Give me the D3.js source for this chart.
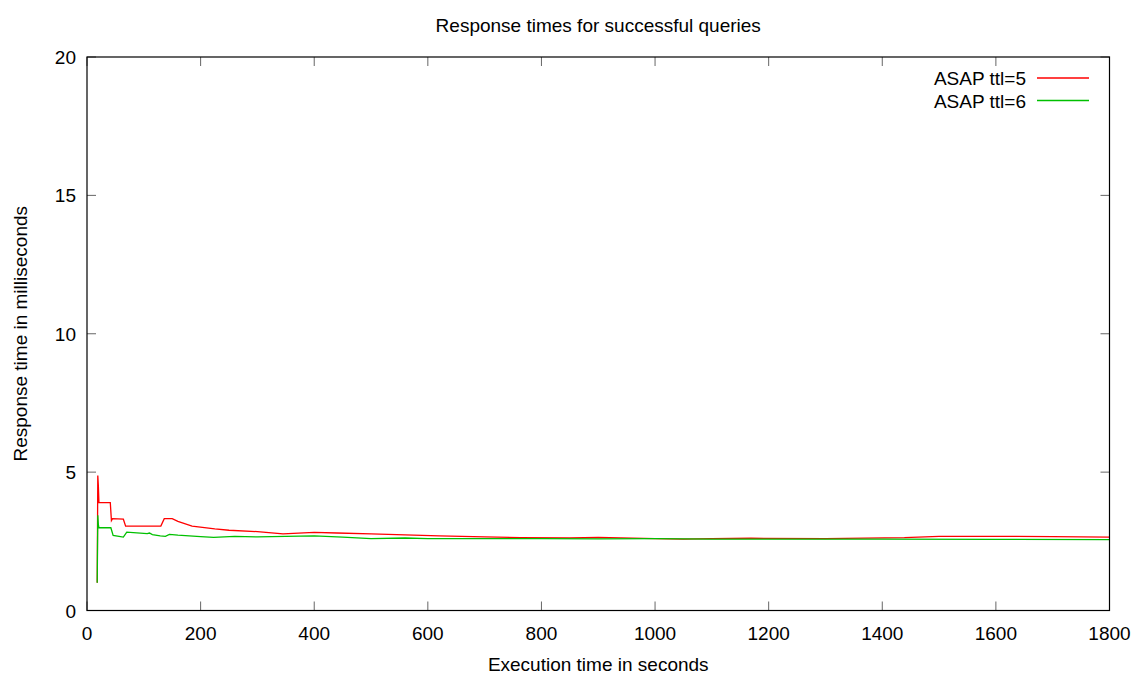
<!DOCTYPE html>
<html>
<head>
<meta charset="utf-8">
<script src="https://cdn.jsdelivr.net/npm/d3@7"></script>
<style>
  body { margin: 0; background: #fff; }
  svg text { font-family: "Liberation Sans", Arial, sans-serif; fill: #000; }
</style>
</head>
<body>
<div class="chart"></div>
<script>
// data
const title = "Response times for successful queries";
const x_label = "Execution time in seconds";
const y_label = "Response time in milliseconds";
const series_names = ["ASAP ttl=5", "ASAP ttl=6"];
const series_colors = ["#ff0000", "#00c000"];

const x_ticks = [0, 200, 400, 600, 800, 1000, 1200, 1400, 1600, 1800];
const y_ticks = [0, 5, 10, 15, 20];

const ttl5_x = [18, 19, 20, 21, 41, 43, 45, 64, 68, 130, 136, 150, 160, 185, 225, 250, 300, 345, 400, 440, 500, 560, 620, 700, 763, 850, 900, 1000, 1050, 1100, 1169, 1300, 1439, 1500, 1600, 1700, 1800];
const ttl5_y = [1.0, 4.88, 4.5, 3.9, 3.9, 3.25, 3.32, 3.3, 3.05, 3.05, 3.32, 3.32, 3.22, 3.05, 2.95, 2.9, 2.85, 2.77, 2.82, 2.8, 2.77, 2.73, 2.7, 2.66, 2.63, 2.62, 2.64, 2.6, 2.58, 2.6, 2.61, 2.6, 2.63, 2.68, 2.68, 2.67, 2.65];

const ttl6_x = [18, 19, 20, 21, 42, 46, 64, 70, 106, 110, 115, 129, 138, 145, 160, 200, 223, 260, 300, 350, 400, 450, 500, 560, 600, 700, 800, 900, 1000, 1100, 1200, 1400, 1600, 1800];
const ttl6_y = [1.0, 3.44, 3.1, 2.99, 2.99, 2.71, 2.65, 2.83, 2.78, 2.8, 2.74, 2.7, 2.68, 2.75, 2.72, 2.67, 2.64, 2.68, 2.66, 2.68, 2.7, 2.65, 2.6, 2.62, 2.6, 2.6, 2.6, 2.59, 2.6, 2.58, 2.58, 2.58, 2.57, 2.56];

function renderChart() {

    // constants
    const width = 1143;
    const height = 674;
    const left = 87;
    const right = 1109.5;
    const top = 57;
    const bottom = 610.5;
    const tick_len = 9;
    const font_size = 19;

    const svg = d3.select(".chart").append("svg")
        .attr("width", width)
        .attr("height", height);

    // scales
    const x_scale = d3.scaleLinear().domain([0, 1800]).range([left, right]);
    const y_scale = d3.scaleLinear().domain([0, 20]).range([bottom, top]);

    // ticks, mirrored on all four sides, pointing inward
    const tick_color = "#666";
    x_ticks.forEach(function(t) {
        const x = x_scale(t);
        svg.append("line").attr("x1", x).attr("x2", x)
            .attr("y1", bottom).attr("y2", bottom - tick_len)
            .attr("stroke", tick_color);
        svg.append("line").attr("x1", x).attr("x2", x)
            .attr("y1", top).attr("y2", top + tick_len)
            .attr("stroke", tick_color);
        svg.append("text")
            .attr("x", x)
            .attr("y", bottom + 29)
            .attr("text-anchor", "middle")
            .style("font-size", font_size + "px")
            .text(t);
    });
    y_ticks.forEach(function(t) {
        const y = y_scale(t);
        svg.append("line").attr("x1", left).attr("x2", left + tick_len)
            .attr("y1", y).attr("y2", y)
            .attr("stroke", tick_color);
        svg.append("line").attr("x1", right).attr("x2", right - tick_len)
            .attr("y1", y).attr("y2", y)
            .attr("stroke", tick_color);
        svg.append("text")
            .attr("x", left - 11)
            .attr("y", y + 7)
            .attr("text-anchor", "end")
            .style("font-size", font_size + "px")
            .text(t);
    });

    // lines
    const line = d3.line()
        .x(function(d) { return x_scale(d[0]); })
        .y(function(d) { return y_scale(d[1]); });

    const all_x = [ttl5_x, ttl6_x];
    const all_y = [ttl5_y, ttl6_y];
    all_x.forEach(function(xs, i) {
        const pts = xs.map(function(x, j) { return [x, all_y[i][j]]; });
        svg.append("path")
            .datum(pts)
            .attr("fill", "none")
            .attr("stroke", series_colors[i])
            .attr("stroke-width", 1.3)
            .attr("d", line);
    });

    // frame
    svg.append("rect")
        .attr("x", left).attr("y", top)
        .attr("width", right - left).attr("height", bottom - top)
        .attr("fill", "none")
        .attr("stroke", "#000")
        .attr("stroke-width", 1.2);

    // legend
    series_names.forEach(function(name, i) {
        const y = 78 + i * 22.5;
        svg.append("text")
            .attr("x", 1026)
            .attr("y", y + 7)
            .attr("text-anchor", "end")
            .style("font-size", font_size + "px")
            .text(name);
        svg.append("line")
            .attr("x1", 1037).attr("x2", 1089)
            .attr("y1", y).attr("y2", y)
            .attr("stroke", series_colors[i])
            .attr("stroke-width", 1.3);
    });

    // titles
    svg.append("text")
        .attr("x", (left + right) / 2)
        .attr("y", 32)
        .attr("text-anchor", "middle")
        .style("font-size", font_size + "px")
        .text(title);

    svg.append("text")
        .attr("x", (left + right) / 2)
        .attr("y", 671)
        .attr("text-anchor", "middle")
        .style("font-size", font_size + "px")
        .text(x_label);

    svg.append("text")
        .attr("transform", "translate(27, " + ((top + bottom) / 2) + ") rotate(-90)")
        .attr("text-anchor", "middle")
        .style("font-size", font_size + "px")
        .text(y_label);
}

renderChart();
</script>
</body>
</html>
